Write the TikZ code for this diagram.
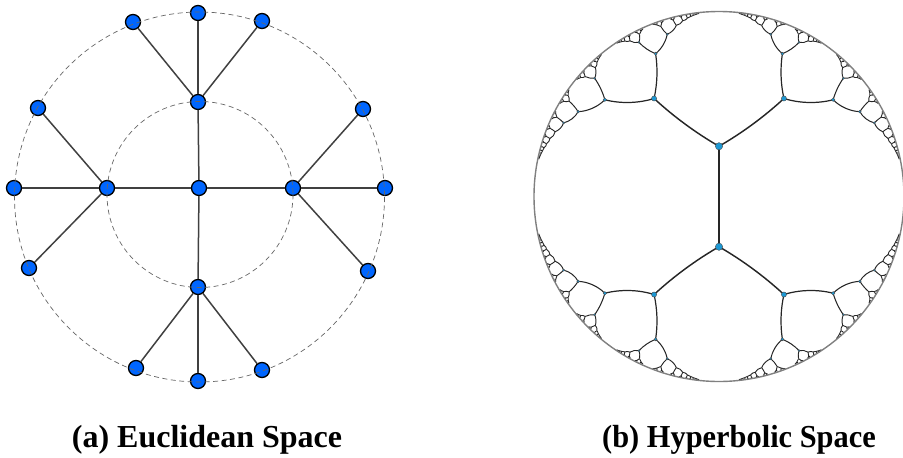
\documentclass[tikz,border=0pt]{standalone}
\usepackage{fontspec}
\setmainfont{Liberation Serif}

\definecolor{euBlue}{RGB}{0,102,255}
\definecolor{hypBlue}{RGB}{28,152,212}

% one geodesic edge of the 3-regular tree in the Poincare disk, then its two children
\def\htval{0.506} % tanh(L/2), L = hyperbolic edge length
\newcommand{\hypbranch}[4]{%
  \pgfmathsetmacro\hza{#1}%
  \pgfmathsetmacro\hzb{#2}%
  \pgfmathsetmacro\hdir{#3}%
  \pgfmathtruncatemacro\hlev{#4}%
  \pgfmathsetmacro\hwc{\htval*cos(\hdir)}%
  \pgfmathsetmacro\hwd{\htval*sin(\hdir)}%
  \pgfmathsetmacro\hp{1+\hza*\hwc+\hzb*\hwd}%
  \pgfmathsetmacro\hq{\hza*\hwd-\hzb*\hwc}%
  \pgfmathsetmacro\hn{\hp*\hp+\hq*\hq}%
  \pgfmathsetmacro\hx{((\hza+\hwc)*\hp+(\hzb+\hwd)*\hq)/\hn}%
  \pgfmathsetmacro\hy{((\hzb+\hwd)*\hp-(\hza+\hwc)*\hq)/\hn}%
  \pgfmathsetmacro\hphi{\hdir-2*atan2(\hq,\hp)}%
  \pgfmathsetmacro\hin{\hphi+180}%
  \pgfmathsetmacro\hsc{1-\hx*\hx-\hy*\hy}%
  \pgfmathsetmacro\hlw{0.85+0.4*(\hsc+1-\hza*\hza-\hzb*\hzb)}%
  \coordinate (hfrom) at (\hza,\hzb);
  \coordinate (hto) at (\hx,\hy);
  \draw[hypedge, line width=\hlw pt] (hfrom) to[out=\hdir, in=\hin, looseness=0.85] (hto);
  \pgfmathtruncatemacro\hgo{(\hlev>0)*(\hsc>0.009)}%
  \ifnum\hgo=1
    {\hypbranch{\hx}{\hy}{\hphi+60}{\hlev-1}}%
    {\hypbranch{\hx}{\hy}{\hphi-60}{\hlev-1}}%
  \fi
  \ifdim\hsc pt>0.1pt
    \pgfmathsetmacro\hr{1.2+6.6*\hsc}%
    \node[hypdot, minimum size=\hr pt] at (\hx,\hy) {};
  \fi
}

\begin{document}
\begin{tikzpicture}[x=1pt, y=-1pt,
  eunode/.style={circle, draw=black, fill=euBlue, line width=1.3pt, minimum size=15pt, inner sep=0pt},
  euedge/.style={draw=black!75, line width=1.5pt},
  guide/.style={draw=black!60, line width=0.7pt, dash pattern=on 5pt off 3.5pt},
  hypedge/.style={draw=black!85},
  hypdot/.style={circle, fill=hypBlue, draw=black!70, line width=0.4pt, inner sep=0pt},
  rim/.style={draw=black!50, line width=1.4pt},
  caption/.style={font=\fontsize{32}{38}\selectfont\bfseries, anchor=base, inner sep=0pt}]

\useasboundingbox (0,0) rectangle (903,458);

% ===== Euclidean tree: root and first ring =====
\node[eunode] (root) at (199,188) {};
\foreach \name/\x/\y in {up/198/102, left/107/188, right/293/188, down/198/287} {
    \node[eunode] (\name) at (\x,\y) {};
}

% ===== Euclidean tree: second ring =====
\foreach \name/\x/\y in {up1/133/22, up2/198/13, up3/262/21,
                         left1/38/108, left2/14/188, left3/29/268,
                         right1/363/109, right2/385/188, right3/368/271,
                         down1/136/368, down2/198/381, down3/262/370} {
    \node[eunode] (\name) at (\x,\y) {};
}

% ===== Euclidean edges =====
\foreach \p in {up, left, right, down} {
    \draw[euedge] (root) -- (\p);
    \foreach \k in {1,2,3} {
        \draw[euedge] (\p) -- (\p\k);
    }
}

% dashed rings (drawn over the nodes)
\draw[guide] (200,194.5) circle (93);
\draw[guide] (199.5,197) circle (185);

% ===== Hyperbolic tree in the Poincare disk =====
\begin{scope}[shift={(719pt,-196.5pt)}, x=185pt, y=185pt]
    \coordinate (hA) at (0,0.2715);
    \coordinate (hB) at (0,-0.2715);
    \draw[hypedge, line width=1.6pt] (hA) -- (hB);
    \hypbranch{0}{0.2715}{30}{13}
    \hypbranch{0}{0.2715}{150}{13}
    \hypbranch{0}{-0.2715}{-30}{13}
    \hypbranch{0}{-0.2715}{-150}{13}
    \node[hypdot, minimum size=7.3pt] at (hA) {};
    \node[hypdot, minimum size=7.3pt] at (hB) {};
    % boundary circle
    \draw[rim] (0,0) circle (1);
\end{scope}

% ===== Captions =====
\node[caption] (capA) at (207,447) {(a) Euclidean Space};
\node[caption, xscale=0.95] (capB) at (739,447) {(b) Hyperbolic Space};

\end{tikzpicture}
\end{document}
